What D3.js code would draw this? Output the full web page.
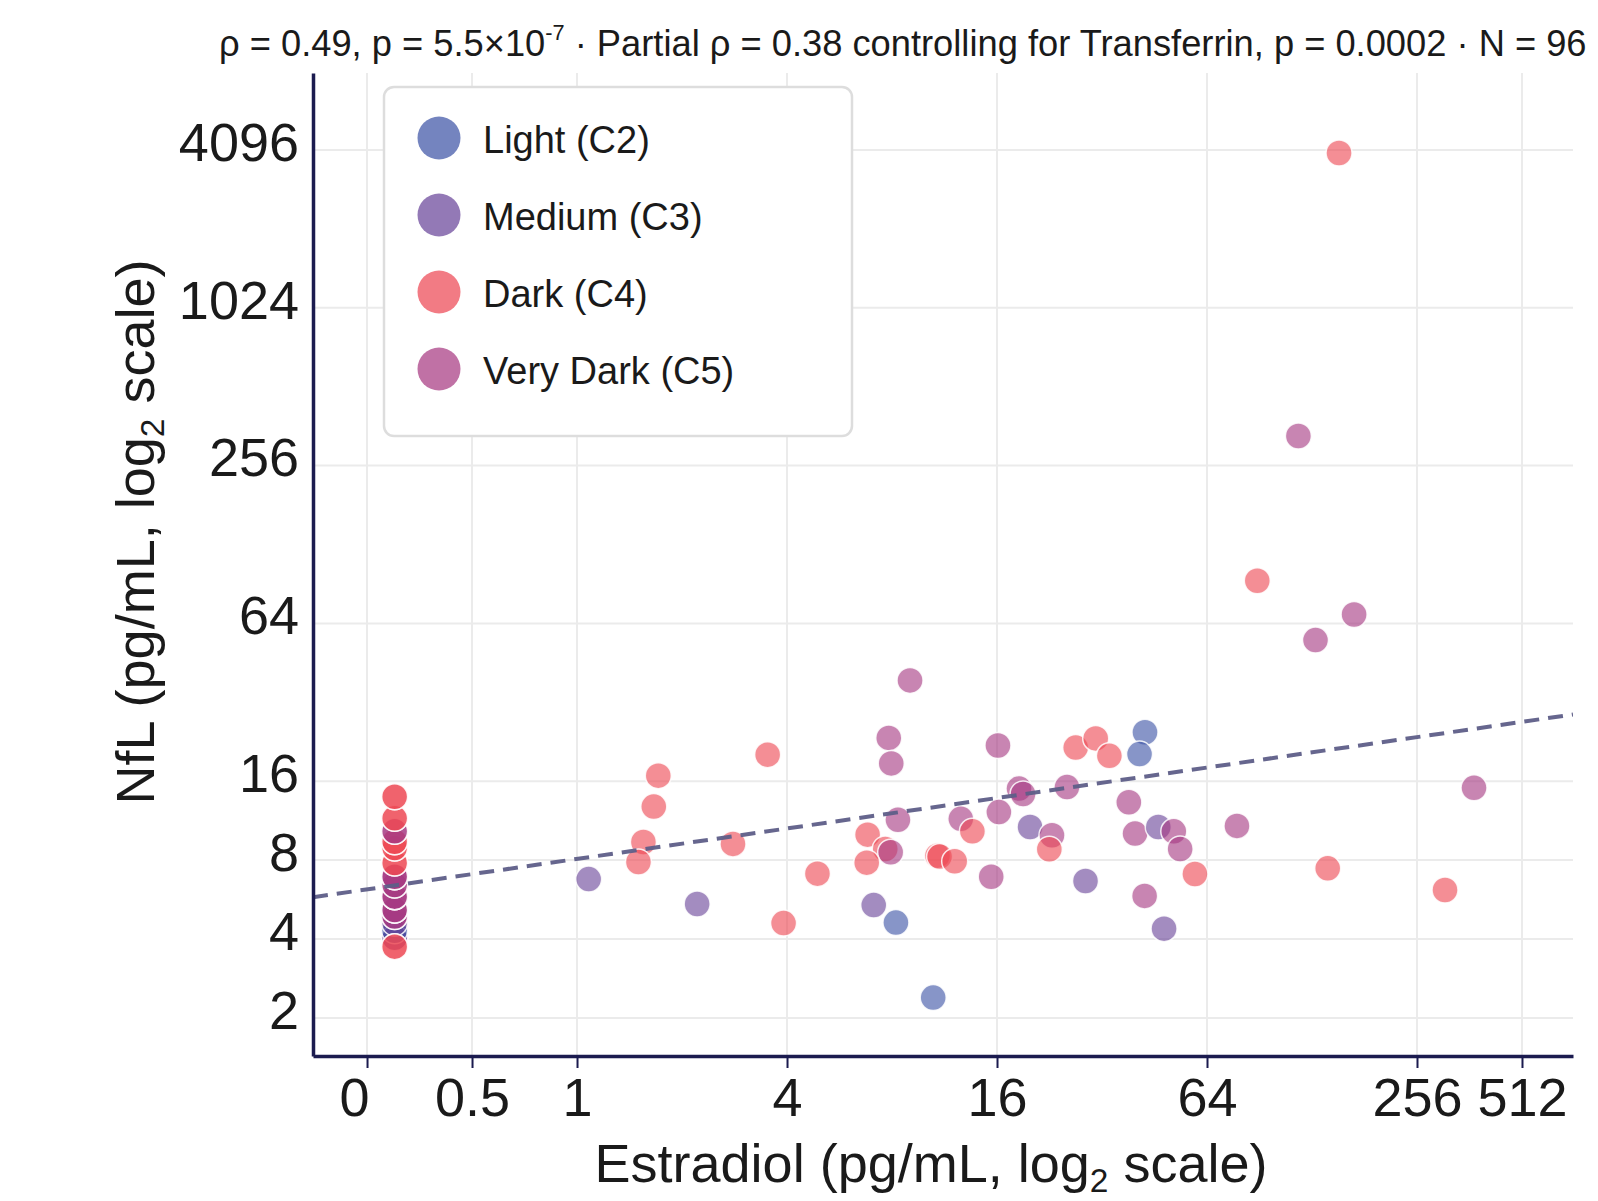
<!DOCTYPE html>
<html>
<head>
<meta charset="utf-8">
<script src="https://cdn.jsdelivr.net/npm/d3@7"></script>
<style>
  html, body { margin: 0; padding: 0; background: #fff; }
  svg { display: block; font-family: "Liberation Sans", Arial, sans-serif; }
</style>
</head>
<body>
<svg id="chart"></svg>
<script>
const WIDTH = 1598;
const HEIGHT = 1201;
const margin = { top: 73, right: 25, bottom: 145, left: 313 };

const groupLabels = ["Light (C2)", "Medium (C3)", "Dark (C4)", "Very Dark (C5)"];
const groupColors = ["#3e54a6", "#6a459a", "#ed4854", "#a73a82"];
const POINT_ALPHA = 0.62;
const LEGEND_ALPHA = 0.72;

const xTickValues = [0, 0.5, 1, 4, 16, 64, 256, 512];
const xTickLabels = ["0", "0.5", "1", "4", "16", "64", "256", "512"];
const yTickValues = [2, 4, 8, 16, 64, 256, 1024, 4096];

// estradiol of 0 can't sit on a log axis: tick and points use a floor value
const ZERO_TICK = 0.25;
const ZERO_POINT = 0.3;

// log2(NfL) = fitIntercept + fitSlope * log2(Estradiol)
const fitIntercept = 3.015;
const fitSlope = 0.193;

// group index: 0 = C2, 1 = C3, 2 = C4, 3 = C5
const estradiol = [
  1.08, 1.71, 1.66, 1.55, 1.50, 2.21, 3.52, 2.80, 3.91, 9.01,
  7.83, 7.96, 16.1, 26.9, 30.7, 33.6, 42.5, 41.0, 18.5, 19.0,
  25.4, 38.2, 8.32, 12.6, 13.6, 16.2, 19.9, 23.0, 22.6, 6.81,
  7.65, 7.93, 6.77, 4.89, 10.8, 10.95, 12.1, 15.4, 28.7, 39.8,
  46.4, 51.4, 53.6, 59.1, 42.4, 48.2, 7.09, 8.21, 78.0, 142,
  308, 373, 153, 117, 89.2, 169, 131, 10.5,
  0, 0, 0, 0, 0, 0, 0, 0, 0, 0,
  0, 0, 0, 0, 0, 0, 0, 0, 0, 0,
  0, 0, 0, 0, 0, 0, 0, 0, 0, 0,
  0, 0, 0, 0, 0, 0, 0, 0
];
const nfl = [
  6.77, 16.8, 12.8, 9.38, 7.87, 5.44, 20.2, 9.22, 4.60, 38.8,
  23.4, 18.7, 21.9, 21.5, 23.3, 20.0, 24.6, 20.3, 15.0, 14.3,
  15.2, 13.3, 11.4, 11.5, 10.3, 12.2, 10.7, 9.95, 8.80, 10.0,
  8.82, 8.57, 7.82, 7.10, 8.32, 8.25, 7.92, 6.91, 6.66, 10.1,
  10.7, 10.3, 8.82, 7.08, 5.84, 4.38, 5.39, 4.62, 10.8, 7.44,
  6.15, 15.1, 3990, 332, 93.1, 69.2, 55.3, 2.39,
  4.46, 4.46, 4.46, 4.22, 4.22, 4.22, 4.04, 4.04, 4.04, 4.3,
  4.6, 3.74, 3.74, 4.87, 4.87, 5.16, 5.16, 5.16, 5.8, 5.8,
  5.8, 6.43, 6.43, 6.91, 6.91, 6.91, 7.8, 7.8, 8.9, 8.9,
  9.4, 9.4, 10.3, 10.3, 11.55, 11.55, 13.96, 13.96
];
const group = [
  1, 2, 2, 2, 2, 1, 2, 2, 2, 3,
  3, 3, 3, 2, 2, 2, 0, 0, 3, 3,
  3, 3, 3, 3, 2, 3, 1, 3, 2, 2,
  2, 3, 2, 2, 2, 2, 2, 3, 1, 3,
  1, 3, 3, 2, 3, 1, 1, 0, 3, 2,
  2, 3, 2, 3, 2, 3, 3, 0,
  1, 1, 1, 0, 0, 0, 1, 1, 1, 0,
  1, 2, 2, 3, 3, 3, 3, 3, 3, 3,
  3, 3, 3, 3, 3, 3, 2, 2, 2, 2,
  2, 2, 3, 3, 2, 2, 2, 2
];

const points = estradiol.map((e, i) => ({ e, n: nfl[i], g: group[i] }));

const svg = d3.select("#chart").attr("width", WIDTH).attr("height", HEIGHT);

const x = d3.scaleLog().base(2)
  .domain([0.175, 717])
  .range([margin.left, WIDTH - margin.right]);

const y = d3.scaleLog().base(2)
  .domain([1.431, 8059])
  .range([HEIGHT - margin.bottom, margin.top]);

const xPos = d => x(d === 0 ? ZERO_TICK : d);
const axisColor = "#1b1b4f";

// grid
const grid = svg.append("g");
grid.selectAll(".vgrid")
  .data(xTickValues)
  .join("line")
  .attr("x1", xPos).attr("x2", xPos)
  .attr("y1", margin.top).attr("y2", HEIGHT - margin.bottom)
  .attr("stroke", "#ebebeb").attr("stroke-width", 2);
grid.selectAll(".hgrid")
  .data(yTickValues)
  .join("line")
  .attr("x1", margin.left).attr("x2", WIDTH - margin.right)
  .attr("y1", d => y(d)).attr("y2", d => y(d))
  .attr("stroke", "#ebebeb").attr("stroke-width", 2);

// points
svg.append("g")
  .selectAll("circle")
  .data(points)
  .join("circle")
  .attr("cx", d => x(d.e === 0 ? ZERO_POINT : d.e))
  .attr("cy", d => y(d.n))
  .attr("r", 13)
  .attr("fill", d => groupColors[d.g])
  .attr("fill-opacity", POINT_ALPHA)
  .attr("stroke", "#fff")
  .attr("stroke-opacity", 0.85)
  .attr("stroke-width", 1.5);

// regression line, drawn over the points
svg.append("clipPath").attr("id", "plot-clip")
  .append("rect")
  .attr("x", margin.left).attr("y", margin.top)
  .attr("width", WIDTH - margin.right - margin.left)
  .attr("height", HEIGHT - margin.bottom - margin.top);

const fitLine = d3.line()
  .x(d => x(d))
  .y(d => y(Math.pow(2, fitIntercept + fitSlope * Math.log2(d))));

svg.append("path")
  .datum(x.domain())
  .attr("d", fitLine)
  .attr("clip-path", "url(#plot-clip)")
  .attr("fill", "none")
  .attr("stroke", "#5e5e88")
  .attr("stroke-opacity", 0.95)
  .attr("stroke-width", 4)
  .attr("stroke-dasharray", "15,9");

// axes
const xAxis = d3.axisBottom(x)
  .tickValues(xTickValues.map(d => (d === 0 ? ZERO_TICK : d)))
  .tickFormat((d, i) => xTickLabels[i])
  .tickSize(12)
  .tickSizeOuter(0)
  .tickPadding(10);

const xAxisGroup = svg.append("g")
  .attr("transform", `translate(0,${HEIGHT - margin.bottom})`)
  .call(xAxis);
xAxisGroup.select(".domain").attr("stroke", axisColor).attr("stroke-width", 3.5);
xAxisGroup.selectAll(".tick line").attr("stroke", axisColor).attr("stroke-width", 2);
xAxisGroup.selectAll(".tick text")
  .attr("font-size", 54)
  .attr("font-family", "Liberation Sans, Arial, sans-serif")
  .attr("fill", "#1a1a1a")
  .attr("dx", (d, i) => (i === 0 ? -13 : 0));

const yAxis = d3.axisLeft(y)
  .tickValues(yTickValues)
  .tickFormat(d3.format("d"))
  .tickSize(0)
  .tickSizeOuter(0)
  .tickPadding(14);

const yAxisGroup = svg.append("g")
  .attr("transform", `translate(${margin.left},0)`)
  .call(yAxis);
yAxisGroup.select(".domain").attr("stroke", axisColor).attr("stroke-width", 3.5);
yAxisGroup.selectAll(".tick text")
  .attr("font-size", 54)
  .attr("font-family", "Liberation Sans, Arial, sans-serif")
  .attr("fill", "#1a1a1a")
  .attr("dy", "0.19em");

// axis titles
const xTitle = svg.append("text")
  .attr("x", 931).attr("y", 1182)
  .attr("text-anchor", "middle")
  .attr("font-size", 54)
  .attr("fill", "#1a1a1a");
xTitle.append("tspan").text("Estradiol (pg/mL, log");
xTitle.append("tspan").attr("font-size", "0.62em").attr("dy", "0.3em").text("2");
xTitle.append("tspan").attr("dy", "-0.19em").text(" scale)");

const yTitle = svg.append("text")
  .attr("transform", "translate(154,532) rotate(-90)")
  .attr("text-anchor", "middle")
  .attr("font-size", 54)
  .attr("fill", "#1a1a1a");
yTitle.append("tspan").text("NfL (pg/mL, log");
yTitle.append("tspan").attr("font-size", "0.62em").attr("dy", "0.3em").text("2");
yTitle.append("tspan").attr("dy", "-0.19em").text(" scale)");

// stats line on top
const title = svg.append("text")
  .attr("x", 219).attr("y", 56)
  .attr("font-size", 32)
  .attr("fill", "#1a1a1a");
title.append("tspan").text("\u03c1 = 0.49, p = 5.5\u00d710");
title.append("tspan").attr("font-size", "0.6em").attr("dy", "-0.75em").text("-7");
title.append("tspan").attr("dy", "0.45em").text(" \u00b7 Partial \u03c1 = 0.38 controlling for Transferrin, p = 0.0002 \u00b7 N = 96");
const titleLen = title.node().getComputedTextLength();
title.attr("font-size", 32 * 1368 / titleLen);

// legend
const legend = svg.append("g");
legend.append("rect")
  .attr("x", 384).attr("y", 87)
  .attr("width", 468).attr("height", 349)
  .attr("rx", 10)
  .attr("fill", "#fff")
  .attr("stroke", "#dddddd")
  .attr("stroke-width", 2.5);

const legendItems = legend.selectAll(".item")
  .data(groupLabels)
  .join("g")
  .attr("transform", (d, i) => `translate(439,${138 + i * 77})`);
legendItems.append("circle")
  .attr("r", 21.5)
  .attr("fill", (d, i) => groupColors[i])
  .attr("fill-opacity", LEGEND_ALPHA);
legendItems.append("text")
  .attr("x", 44).attr("y", 15)
  .attr("font-size", 38)
  .attr("fill", "#1a1a1a")
  .text(d => d);
</script>
</body>
</html>
